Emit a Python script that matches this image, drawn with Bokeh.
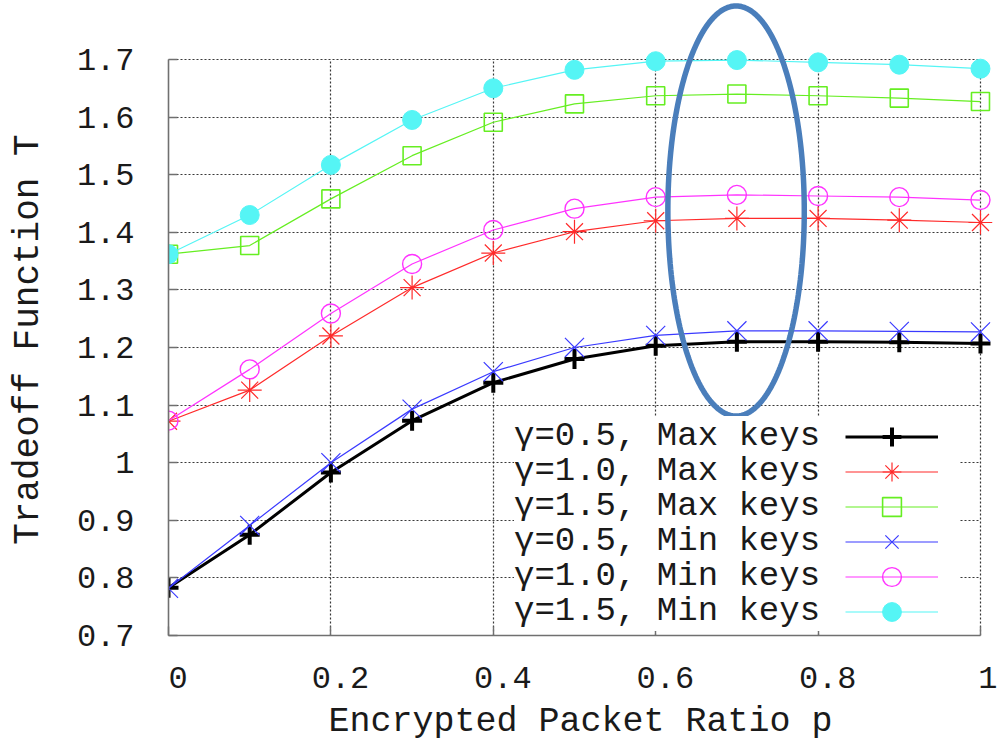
import numpy as np
from bokeh.plotting import figure
from bokeh.models import Legend, LegendItem, FixedTicker, Range1d, PolyAnnotation
from bokeh.embed import file_html
from bokeh.resources import INLINE

# ---------------- data ----------------
p_ratio = [0.0, 0.1, 0.2, 0.3, 0.4, 0.5, 0.6, 0.7, 0.8, 0.9, 1.0]

max_keys_g05 = [0.783, 0.875, 0.983, 1.073, 1.139, 1.180, 1.203, 1.210, 1.210, 1.209, 1.207]
max_keys_g10 = [1.072, 1.126, 1.220, 1.304, 1.364, 1.401, 1.420, 1.424, 1.424, 1.421, 1.417]
max_keys_g15 = [1.362, 1.377, 1.458, 1.533, 1.591, 1.623, 1.637, 1.640, 1.637, 1.633, 1.627]
min_keys_g05 = [0.782, 0.891, 1.000, 1.093, 1.158, 1.200, 1.221, 1.229, 1.229, 1.228, 1.227]
min_keys_g10 = [1.073, 1.162, 1.259, 1.345, 1.404, 1.441, 1.461, 1.465, 1.463, 1.461, 1.456]
min_keys_g15 = [1.362, 1.430, 1.517, 1.595, 1.650, 1.682, 1.697, 1.699, 1.695, 1.691, 1.684]

series_labels = ["γ=0.5, Max keys", "γ=1.0, Max keys", "γ=1.5, Max keys",
                 "γ=0.5, Min keys", "γ=1.0, Min keys", "γ=1.5, Min keys"]

x_ticks = [0.0, 0.2, 0.4, 0.6, 0.8, 1.0]
x_tick_labels = ["0", "0.2", "0.4", "0.6", "0.8", "1"]
y_ticks = [0.7, 0.8, 0.9, 1.0, 1.1, 1.2, 1.3, 1.4, 1.5, 1.6, 1.7]
y_tick_labels = ["0.7", "0.8", "0.9", "1", "1.1", "1.2", "1.3", "1.4", "1.5", "1.6", "1.7"]

x_title = "Encrypted Packet Ratio p"
y_title = "Tradeoff Function T"

x_axis_bounds = (0.0, 1.0)
y_axis_bounds = (0.7, 1.7)

# highlight ellipse (annotation): centre and semi-axes in data units
ell_cx, ell_cy, ell_rx, ell_ry = 0.699, 1.437, 0.084, 0.356

# ---------------- styles / layout ----------------
FONT = "Liberation Mono"
styles = [
    dict(color="#000000", marker="cross", size=20, lw=3.0, mlw=4.0, fill=False),
    dict(color="#ff2a2a", marker="asterisk", size=24, lw=1.2, mlw=1.2, fill=False),
    dict(color="#66ee22", marker="square", size=18, lw=1.2, mlw=1.6, fill=False),
    dict(color="#3a3aff", marker="x", size=27, lw=1.2, mlw=1.2, fill=False),
    dict(color="#ff33ff", marker="circle", size=19, lw=1.2, mlw=1.4, fill=False),
    dict(color="#55f5f5", marker="circle", size=19, lw=1.2, mlw=1.0, fill=True),
]
series_values = [max_keys_g05, max_keys_g10, max_keys_g15,
                 min_keys_g05, min_keys_g10, min_keys_g15]

# legend layout (screen px, relative to the bottom-left of the plot frame)
LEG_TOP_ROW = 199      # centre of first legend row above frame bottom
LEG_PITCH = 35         # row pitch
LEG_TEXT_X = 346       # left of legend text
LEG_SAMPLE_X = 677     # left of legend sample line
TEXT_ROW_H = 40
SAMPLE_ROW_H = 47

p = figure(width=997, height=744, output_backend="svg", toolbar_location=None,
           x_range=Range1d(0.0, 1.0148), y_range=Range1d(0.7, 1.8024),
           min_border_left=168, min_border_right=5, min_border_top=0,
           min_border_bottom=109)
p.outline_line_color = None
p.background_fill_color = "white"
p.border_fill_color = "white"

# axes
for ax in (p.xaxis[0], p.yaxis[0]):
    ax.axis_line_color = "#707070"
    ax.axis_line_width = 1.6
    ax.major_tick_line_color = "#707070"
    ax.major_tick_line_width = 1.4
    ax.major_tick_in = 9
    ax.major_tick_out = 0
    ax.minor_tick_line_color = None
    ax.major_label_text_font = FONT
    ax.major_label_text_font_size = "32px"
    ax.major_label_text_color = "#1a1a1a"
    ax.axis_label_text_font = FONT
    ax.axis_label_text_font_style = "normal"
    ax.axis_label_text_color = "#1a1a1a"

p.xaxis.bounds = x_axis_bounds
p.xaxis.ticker = FixedTicker(ticks=x_ticks)
p.xaxis.major_label_overrides = {t: "\u00a0" + l for t, l in zip(x_ticks, x_tick_labels)}
p.xaxis.major_label_standoff = 25
p.xaxis.axis_label = x_title
p.xaxis.axis_label_text_font_size = "35px"
p.xaxis.axis_label_standoff = 1

p.yaxis.bounds = y_axis_bounds
p.yaxis.ticker = FixedTicker(ticks=y_ticks)
p.yaxis.major_label_overrides = dict(zip(y_ticks, y_tick_labels))
p.yaxis.major_label_standoff = 34
p.yaxis.axis_label = y_title + "\u00a0\u00a0"
p.yaxis.axis_label_text_font_size = "36px"
p.yaxis.axis_label_standoff = 25

for g in (p.xgrid[0], p.ygrid[0]):
    g.grid_line_color = "#222222"
    g.grid_line_dash = "2 2"
    g.grid_line_width = 1.2
    g.grid_line_alpha = 0.9
p.xgrid[0].cross_bounds = y_axis_bounds
p.ygrid[0].cross_bounds = x_axis_bounds

line_rs, scat_rs = [], []
for vals, st in zip(series_values, styles):
    lr = p.line(p_ratio, vals, line_color=st["color"], line_width=st["lw"])
    sr = p.scatter(p_ratio, vals, marker=st["marker"], size=st["size"],
                   line_color=st["color"], line_width=st["mlw"],
                   fill_color=st["color"] if st["fill"] else None)
    line_rs.append(lr)
    scat_rs.append(sr)

# gnuplot style key: text on the left, sample on the right (one row per legend)
text_legends, sample_legends = [], []
for k, (lab, lr, sr) in enumerate(zip(series_labels, line_rs, scat_rs)):
    c = LEG_TOP_ROW - k * LEG_PITCH
    text_legends.append(Legend(
        items=[LegendItem(label=lab, renderers=[lr])],
        location=(LEG_TEXT_X, c - TEXT_ROW_H / 2), orientation="vertical",
        glyph_width=0, glyph_height=TEXT_ROW_H, label_height=TEXT_ROW_H, label_width=446,
        label_standoff=0, spacing=0, padding=0, margin=0,
        border_line_color=None, background_fill_color="white", background_fill_alpha=1.0,
        label_text_font=FONT, label_text_font_size="34px", label_text_color="#1a1a1a",
    ))
    sample_legends.append(Legend(
        items=[LegendItem(label=" ", renderers=[lr, sr])],
        location=(LEG_SAMPLE_X, c - SAMPLE_ROW_H / 2), orientation="vertical",
        glyph_width=93, glyph_height=SAMPLE_ROW_H, label_height=SAMPLE_ROW_H, label_width=0,
        label_standoff=0, spacing=0, padding=0, margin=0,
        border_line_color=None, background_fill_alpha=0.0,
        label_text_font_size="1px",
    ))
for leg in text_legends + sample_legends:
    p.add_layout(leg)

theta = np.linspace(0.0, 2.0 * np.pi, 241)
ellipse = PolyAnnotation(
    xs=list(ell_cx + ell_rx * np.cos(theta)), ys=list(ell_cy + ell_ry * np.sin(theta)),
    xs_units="data", ys_units="data",
    fill_color=None, fill_alpha=0.0, line_color="#4a7ebb", line_alpha=1.0, line_width=5.5,
)
p.add_layout(ellipse)

open("out.html", "w").write(file_html(p, INLINE))
